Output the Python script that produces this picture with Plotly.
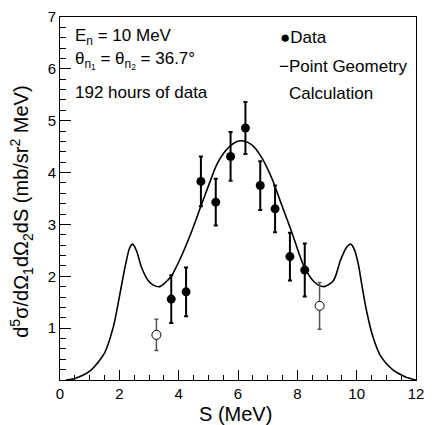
import plotly.graph_objects as go

# ---- data ----
S_filled = [3.75, 4.25, 4.75, 5.25, 5.75, 6.25, 6.75, 7.25, 7.75, 8.25]
V_filled = [1.56, 1.70, 3.83, 3.43, 4.31, 4.86, 3.75, 3.30, 2.38, 2.12]
E_filled = [0.46, 0.47, 0.48, 0.45, 0.47, 0.50, 0.47, 0.45, 0.46, 0.51]

S_open = [3.25, 8.75]
V_open = [0.87, 1.43]
E_open = [0.30, 0.45]

S_calc = [0.2, 0.5, 1.0, 1.5, 1.8, 2.0, 2.2, 2.35, 2.45, 2.58, 2.75, 2.97, 3.15, 3.35,
          3.55, 3.76, 4.07, 4.40, 4.73, 5.06, 5.28, 5.61, 5.93, 6.18, 6.48, 6.81, 7.14,
          7.47, 7.80, 8.05, 8.24, 8.57, 8.90, 9.22, 9.45, 9.65, 9.80, 9.92, 10.05, 10.17,
          10.33, 10.55, 10.82, 11.21, 11.65, 12.0]
V_calc = [0.0, 0.03, 0.17, 0.52, 1.03, 1.6, 2.2, 2.55, 2.62, 2.49, 2.17, 1.92, 1.83, 1.80,
          1.88, 2.01, 2.36, 2.81, 3.32, 3.83, 4.15, 4.44, 4.59, 4.61, 4.53, 4.28, 3.89,
          3.38, 2.87, 2.45, 2.17, 1.89, 1.80, 1.92, 2.30, 2.55, 2.62, 2.52, 2.25, 1.85,
          1.34, 0.83, 0.45, 0.2, 0.06, 0.0]

x_ticks = [0, 2, 4, 6, 8, 10, 12]
y_ticks = [1, 2, 3, 4, 5, 6, 7]

FONT = "Liberation Sans, Arial, Helvetica, sans-serif"
W, H = 432, 425
ML, MR, MT, MB = 60, 8, 15, 45
PW, PH = W - ML - MR, H - MT - MB


def px(x, y):
    return (x - ML) / PW, (H - MB - y) / PH


fig = go.Figure()

fig.add_trace(go.Scatter(
    x=S_calc, y=V_calc, mode="lines",
    line=dict(color="black", width=1.6, shape="spline", smoothing=0.8),
    hoverinfo="skip", showlegend=False))

fig.add_trace(go.Scatter(
    x=S_open, y=V_open, mode="markers",
    marker=dict(symbol="circle", size=9, color="white", line=dict(color="black", width=1)),
    error_y=dict(type="data", array=E_open, color="#555555", thickness=1.5, width=2),
    showlegend=False))

fig.add_trace(go.Scatter(
    x=S_filled, y=V_filled, mode="markers",
    marker=dict(symbol="circle", size=9, color="black"),
    error_y=dict(type="data", array=E_filled, color="black", thickness=2, width=2),
    showlegend=False))

axis_common = dict(
    showgrid=False, zeroline=False, showline=True, linecolor="black", linewidth=1,
    mirror=True, ticks="inside", tickcolor="black",
    tickfont=dict(family=FONT, size=15, color="black"),
)

fig.update_xaxes(range=[0, 12], tickvals=x_ticks, ticktext=[str(v) for v in x_ticks],
                 ticklen=10, tickwidth=1,
                 minor=dict(ticks="inside", ticklen=5, dtick=0.5, tickcolor="black"),
                 **axis_common)
fig.update_yaxes(range=[0, 7], tickvals=y_ticks, ticktext=[str(v) for v in y_ticks],
                 ticklen=11, tickwidth=1,
                 minor=dict(ticks="inside", ticklen=6, dtick=0.2, tickcolor="black"),
                 **axis_common)

anns = []


def add_text(text, x, y, size=17, xanchor="left", angle=0):
    xp, yp = px(x, y)
    anns.append(dict(text=text, x=xp, y=yp, xref="paper", yref="paper",
                     xanchor=xanchor, yanchor="middle", showarrow=False,
                     textangle=angle, font=dict(family=FONT, size=size, color="black")))


add_text("E<sub>n</sub> = 10 MeV", 73, 35)
add_text("θ<sub>n<sub>1</sub></sub> = θ<sub>n<sub>2</sub></sub> = 36.7°", 73, 59)
add_text("192 hours of data", 73, 91)
add_text("●Data", 283, 36)
add_text("−Point Geometry", 282, 65)
add_text("Calculation", 292, 92)
add_text("S (MeV)", 239, 414, size=20, xanchor="center")
add_text("d<sup>5</sup>σ/dΩ<sub>1</sub>dΩ<sub>2</sub>dS (mb/sr<sup>2</sup> MeV)", 21, 211,
         size=20, xanchor="center", angle=-90)

fig.update_layout(
    width=W, height=H, autosize=False,
    margin=dict(l=ML, r=MR, t=MT, b=MB),
    paper_bgcolor="white", plot_bgcolor="white",
    annotations=anns, showlegend=False,
)

fig.write_html("out.html", config={"displayModeBar": False},
               post_script="document.body.style.margin='0';")
